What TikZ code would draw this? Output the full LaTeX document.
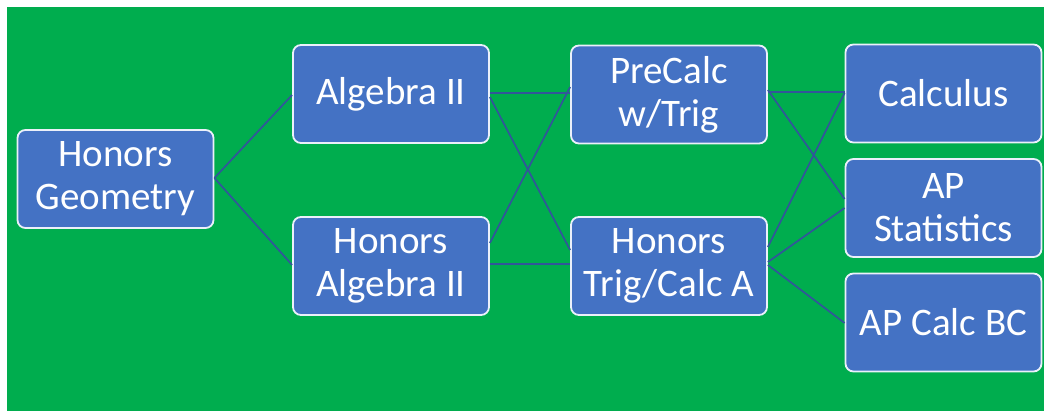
\documentclass[tikz,border=0pt]{standalone}
\usepackage{fontspec}
\setmainfont{Carlito}
\usetikzlibrary{calc}
\definecolor{bggreen}{RGB}{0,173,78}
\definecolor{boxblue}{RGB}{68,114,196}
\definecolor{linkblue}{RGB}{50,86,154}
\definecolor{edgewhite}{RGB}{235,240,250}
\tikzset{
  course/.style={draw=edgewhite, line width=1.8pt, fill=boxblue, rounded corners=8pt,
    minimum width=196pt, minimum height=98pt, inner sep=0pt, align=center,
    text=white, font=\fontsize{39}{43}\selectfont},
  link/.style={draw=linkblue, line width=1.7pt}
}
\begin{document}
\begin{tikzpicture}[x=1pt,y=-1pt]
\useasboundingbox (0,0) rectangle (1044,411);
\fill[white] (0,0) rectangle (1044,411);
\fill[bggreen] (7,7) rectangle (1044,411);
\node[course] (hg) at (115.5,179) {Honors\\Geometry};
\node[course] (alg) at (391,94) {Algebra II};
\node[course] (halg) at (391,266) {Honors\\Algebra II};
\node[course] (pc) at (669,94.5) {PreCalc\\w/Trig};
\node[course] (htc) at (669,266) {Honors\\Trig/Calc A};
\node[course] (calc) at (943.5,93.5) {Calculus};
\node[course] (aps) at (943.5,208) {AP\\Statistics};
\node[course] (bc) at (943.5,322.5) {AP Calc BC};
\draw[link] ($(hg.east)+(0,-1)$) -- ($(alg.west)+(0,1)$);
\draw[link] ($(hg.east)+(0,-1)$) -- ($(halg.west)+(0,-1)$);
\draw[link] ($(alg.east)+(0,-1)$) -- ($(pc.west)+(0,-1.5)$);
\draw[link] ($(alg.east)+(0,3)$) -- ($(htc.west)+(0,-16)$);
\draw[link] ($(halg.east)+(0,-23)$) -- ($(pc.west)+(0,-7.5)$);
\draw[link] ($(halg.east)+(0,-2)$) -- ($(htc.west)+(0,-2)$);
\draw[link] ($(pc.east)+(0,-2.5)$) -- ($(calc.west)+(0,-1.5)$);
\draw[link] ($(pc.east)+(0,-4.5)$) -- ($(aps.west)+(0,-9)$);
\draw[link] ($(htc.east)+(0,-19)$) -- ($(calc.west)+(0,-0.5)$);
\draw[link] ($(htc.east)+(0,-4)$) -- ($(aps.west)+(0,0)$);
\draw[link] ($(htc.east)+(0,-1)$) -- ($(bc.west)+(0,0.5)$);
\end{tikzpicture}
\end{document}
